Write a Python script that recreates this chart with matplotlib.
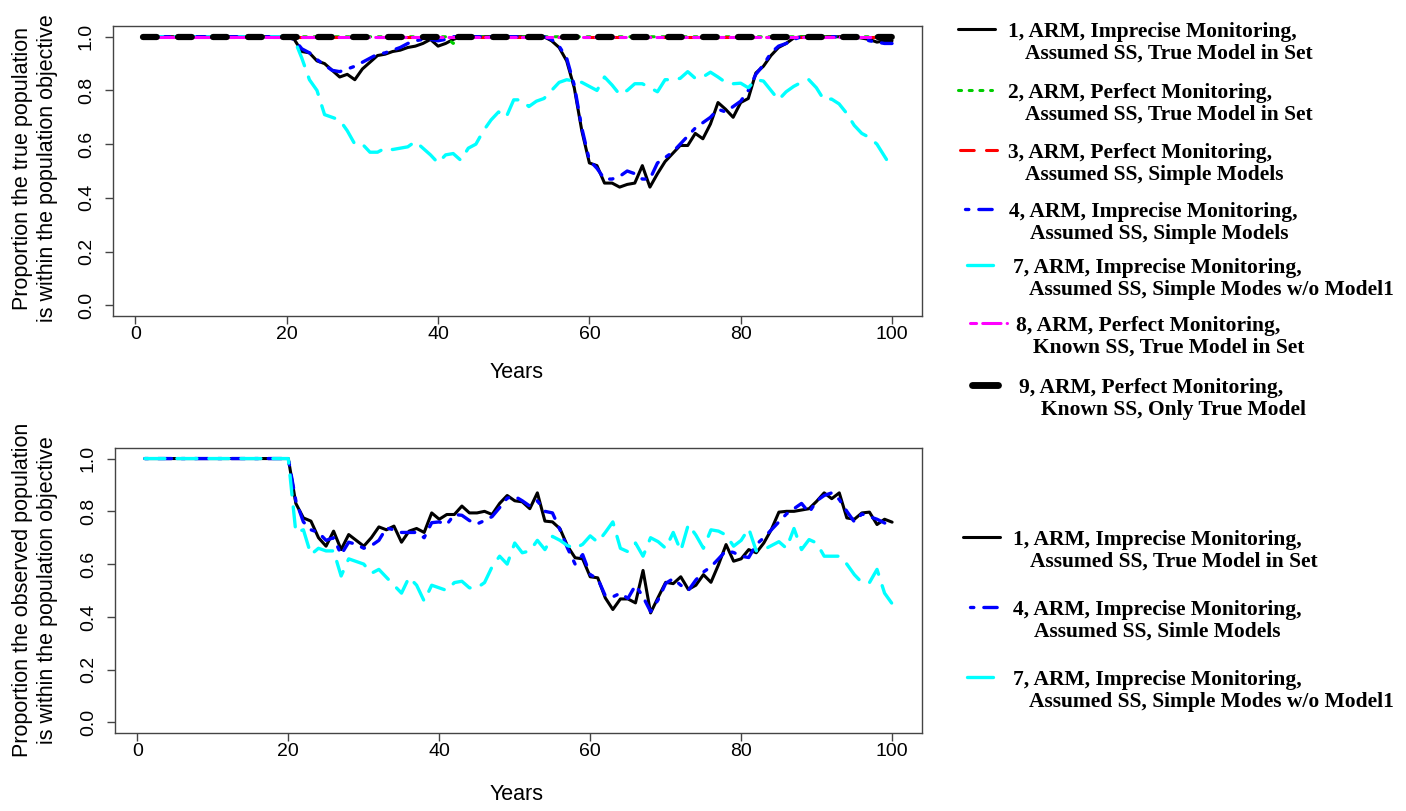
import numpy as np
import matplotlib
matplotlib.use("Agg")
import matplotlib.pyplot as plt
from matplotlib.lines import Line2D

years = np.arange(1, 101)

# ---- top panel: proportion the true population is within the objective ----
s1_top = [1.0] * 20 + [
    0.99, 0.945, 0.94, 0.91, 0.90, 0.875, 0.85, 0.86, 0.84, 0.88,
    0.905, 0.93, 0.935, 0.945, 0.95, 0.96, 0.965, 0.975, 0.99, 0.965,
    0.975, 0.99, 1.0, 1.0, 1.0, 1.0, 1.0, 1.0, 1.0, 1.0,
    1.0, 1.0, 1.0, 1.0, 0.985, 0.96, 0.91, 0.81, 0.65, 0.53,
    0.52, 0.455, 0.455, 0.44, 0.45, 0.455, 0.52, 0.44, 0.49, 0.535,
    0.565, 0.595, 0.595, 0.64, 0.62, 0.675, 0.755, 0.73, 0.70, 0.755,
    0.77, 0.865, 0.89, 0.93, 0.96, 0.975, 0.995, 1.0, 1.0, 1.0,
    1.0, 1.0, 1.0, 1.0, 1.0, 0.995, 0.99, 0.98, 0.985, 0.985]
s2_top = [1.0] * 41 + [0.975] + [1.0] * 58
s3_top = [1.0] * 100
s4_top = [1.0] * 20 + [
    0.99, 0.955, 0.94, 0.915, 0.895, 0.875, 0.87, 0.88, 0.89, 0.905,
    0.92, 0.935, 0.94, 0.95, 0.96, 0.975, 0.985, 0.99, 0.99, 0.985,
    0.99, 1.0, 1.0, 1.0, 1.0, 1.0, 1.0, 1.0, 1.0, 1.0,
    1.0, 1.0, 1.0, 1.0, 0.99, 0.965, 0.92, 0.82, 0.66, 0.54,
    0.51, 0.47, 0.47, 0.48, 0.50, 0.49, 0.47, 0.47, 0.53, 0.55,
    0.57, 0.60, 0.63, 0.66, 0.68, 0.70, 0.73, 0.72, 0.74, 0.76,
    0.80, 0.86, 0.895, 0.94, 0.965, 0.975, 0.99, 1.0, 1.0, 1.0,
    1.0, 1.0, 1.0, 1.0, 1.0, 0.995, 0.985, 0.98, 0.975, 0.975]
s7_top = [1.0] * 20 + [
    0.99, 0.92, 0.84, 0.80, 0.71, 0.70, 0.69, 0.65, 0.60, 0.60,
    0.57, 0.57, 0.585, 0.58, 0.585, 0.59, 0.61, 0.585, 0.56, 0.53,
    0.56, 0.565, 0.54, 0.585, 0.60, 0.65, 0.69, 0.72, 0.70, 0.765,
    0.765, 0.74, 0.76, 0.77, 0.80, 0.83, 0.84, 0.835, 0.83, 0.815,
    0.80, 0.85, 0.82, 0.785, 0.80, 0.825, 0.825, 0.81, 0.795, 0.84,
    0.84, 0.845, 0.87, 0.845, 0.85, 0.868, 0.85, 0.83, 0.825, 0.827,
    0.81, 0.84, 0.835, 0.80, 0.765, 0.795, 0.815, 0.83, 0.84, 0.81,
    0.765, 0.768, 0.75, 0.715, 0.67, 0.64, 0.625, 0.60, 0.555, 0.51]
s8_top = [1.0] * 100
s9_top = [1.0] * 100

# ---- bottom panel: proportion the observed population is within the objective ----
s1_bot = [1.0] * 20 + [
    0.83, 0.775, 0.763, 0.70, 0.668, 0.725, 0.655, 0.712, 0.69, 0.668,
    0.70, 0.741, 0.73, 0.744, 0.683, 0.725, 0.735, 0.72, 0.794, 0.77,
    0.788, 0.788, 0.82, 0.794, 0.794, 0.80, 0.788, 0.83, 0.86, 0.84,
    0.836, 0.81, 0.87, 0.763, 0.76, 0.734, 0.668, 0.624, 0.62, 0.552,
    0.548, 0.472, 0.428, 0.468, 0.468, 0.453, 0.576, 0.415, 0.474, 0.531,
    0.526, 0.552, 0.504, 0.52, 0.56, 0.531, 0.598, 0.674, 0.611, 0.62,
    0.655, 0.643, 0.68, 0.731, 0.797, 0.80, 0.80, 0.805, 0.81, 0.838,
    0.87, 0.848, 0.87, 0.775, 0.77, 0.794, 0.797, 0.75, 0.77, 0.759]
s4_bot = [1.0] * 20 + [
    0.84, 0.76, 0.73, 0.72, 0.69, 0.70, 0.636, 0.683, 0.675, 0.66,
    0.67, 0.69, 0.737, 0.73, 0.72, 0.72, 0.72, 0.70, 0.757, 0.76,
    0.75, 0.788, 0.785, 0.765, 0.752, 0.765, 0.78, 0.814, 0.85, 0.857,
    0.84, 0.82, 0.84, 0.80, 0.794, 0.73, 0.66, 0.60, 0.636, 0.56,
    0.545, 0.48, 0.476, 0.49, 0.47, 0.52, 0.476, 0.42, 0.465, 0.527,
    0.545, 0.52, 0.50, 0.54, 0.57, 0.59, 0.62, 0.651, 0.644, 0.63,
    0.625, 0.674, 0.70, 0.73, 0.76, 0.79, 0.81, 0.83, 0.795, 0.84,
    0.86, 0.87, 0.845, 0.80, 0.76, 0.79, 0.78, 0.77, 0.756, 0.735]
s7_bot = [1.0] * 20 + [
    0.72, 0.73, 0.636, 0.66, 0.65, 0.65, 0.555, 0.62, 0.61, 0.60,
    0.565, 0.58, 0.55, 0.52, 0.49, 0.55, 0.52, 0.46, 0.52, 0.51,
    0.50, 0.53, 0.535, 0.51, 0.51, 0.53, 0.59, 0.63, 0.60, 0.68,
    0.643, 0.65, 0.69, 0.655, 0.705, 0.69, 0.67, 0.66, 0.675, 0.707,
    0.683, 0.72, 0.76, 0.66, 0.647, 0.68, 0.63, 0.70, 0.685, 0.66,
    0.72, 0.65, 0.75, 0.71, 0.66, 0.73, 0.725, 0.71, 0.668, 0.69,
    0.735, 0.65, 0.655, 0.67, 0.685, 0.66, 0.735, 0.655, 0.693, 0.68,
    0.63, 0.63, 0.63, 0.60, 0.56, 0.53, 0.53, 0.58, 0.49, 0.45]

top_keys = [1, 2, 3, 4, 7, 8, 9]
top_line1 = ["1, ARM, Imprecise Monitoring,", "2, ARM, Perfect Monitoring,",
             "3, ARM, Perfect Monitoring,", "4, ARM, Imprecise Monitoring,",
             "7, ARM, Imprecise Monitoring,", "8, ARM, Perfect Monitoring,",
             "9, ARM, Perfect Monitoring,"]
top_line2 = ["Assumed SS, True Model in Set", "Assumed SS, True Model in Set",
             "Assumed SS, Simple Models", "Assumed SS, Simple Models",
             "Assumed SS, Simple Modes w/o Model1", "Known SS, True Model in Set",
             "Known SS, Only True Model"]
bot_keys = [1, 4, 7]
bot_line1 = ["1, ARM, Imprecise Monitoring,", "4, ARM, Imprecise Monitoring,",
             "7, ARM, Imprecise Monitoring,"]
bot_line2 = ["Assumed SS, True Model in Set", "Assumed SS, Simle Models",
             "Assumed SS, Simple Modes w/o Model1"]

# line styles (R-like lty)
sty = {
    1: dict(color="black", lw=2.2, ls="-"),
    2: dict(color="#00cc00", lw=2.2, ls=(0, (1, 2.5))),
    3: dict(color="red", lw=2.2, ls=(0, (4.5, 4))),
    4: dict(color="blue", lw=2.4, ls=(0, (1, 3, 4, 3))),
    7: dict(color="cyan", lw=2.4, ls=(0, (6, 3.6))),
    8: dict(color="magenta", lw=2.2, ls=(0, (2, 2, 6, 2))),
    9: dict(color="black", lw=4.5, ls=(0, (2.2, 3.4))),
}
# legend keys are too short to show the long dashes of 7 and 9
handle_ls = {7: "-", 9: "-"}

plt.rcParams["font.family"] = ["Liberation Sans", "DejaVu Sans"]
fig = plt.figure(figsize=(14.06, 8.11), dpi=100)
W, H = 1406.0, 811.0

ax1 = fig.add_axes([113 / W, 1 - 316 / H, (922 - 113) / W, (316 - 26) / H])
ax2 = fig.add_axes([115 / W, 1 - 733 / H, (922 - 115) / W, (733 - 448) / H])

top_series = [s1_top, s2_top, s3_top, s4_top, s7_top, s8_top, s9_top]
bot_series = [s1_bot, s4_bot, s7_bot]

for k, s in zip(top_keys, top_series):
    st = sty[k]
    ax1.plot(years, s, color=st["color"], lw=st["lw"], linestyle=st["ls"],
             dash_capstyle="round", solid_capstyle="round")
for k, s in zip(bot_keys, bot_series):
    st = sty[k]
    ax2.plot(years, s, color=st["color"], lw=st["lw"], linestyle=st["ls"],
             dash_capstyle="round", solid_capstyle="round")

ylabels = ["Proportion the true population\nis within the population objective",
           "Proportion the observed population\nis within the population objective"]
ylab_y = [168, 590]
xlab_y = [373, 795]
for ax, yl, yy, xy in zip([ax1, ax2], ylabels, ylab_y, xlab_y):
    ax.set_xlim(-2.96, 103.96)
    ax.set_ylim(-0.04, 1.04)
    ax.set_xticks([0, 20, 40, 60, 80, 100])
    ax.set_yticks([0.0, 0.2, 0.4, 0.6, 0.8, 1.0])
    ax.set_yticklabels(["0.0", "0.2", "0.4", "0.6", "0.8", "1.0"],
                       rotation=90, va="center")
    ax.tick_params(length=6, width=1, colors="#444444", labelsize=14,
                   labelcolor="black")
    ax.tick_params(axis="x", pad=1.5)
    ax.tick_params(axis="y", pad=7)
    for sp in ax.spines.values():
        sp.set_color("#444444")
        sp.set_linewidth(1)
    fig.text(35 / W, 1 - yy / H, yl, rotation=90, ha="center", va="center",
             multialignment="center", fontsize=15.5, linespacing=1.2)
    fig.text(517 / W, 1 - xy / H, "Years", ha="center", va="center",
             fontsize=15.5)

# manual legends (R-style, key next to the first line of each entry)
def draw_legend(keys, line1, line2, ys, hx, tx1, tx2):
    for k, a, b, y, (h0, h1), x1, x2 in zip(keys, line1, line2, ys, hx, tx1, tx2):
        st = sty[k]
        fig.add_artist(Line2D([h0 / W, h1 / W], [1 - (y - 1) / H, 1 - (y - 1) / H],
                              transform=fig.transFigure, color=st["color"],
                              lw=st["lw"] * (1.1 if k == 9 else 1.0),
                              linestyle=handle_ls.get(k, st["ls"]),
                              dash_capstyle="round", solid_capstyle="round"))
        for txt, x, yy in [(a, x1, y), (b, x2, y + 22)]:
            fig.text(x / W, 1 - (yy + 7) / H, txt, ha="left", va="baseline",
                     fontsize=15.5, fontweight="bold",
                     family=["Liberation Serif", "DejaVu Serif"])

draw_legend(top_keys, top_line1, top_line2,
            [30, 91, 151, 210, 266, 324, 386],
            [(958, 995), (958, 992), (960, 997), (965, 995), (967, 993),
             (970, 1007), (972, 998)],
            [1008, 1008, 1008, 1009, 1013, 1016, 1019],
            [1025, 1025, 1025, 1030, 1029, 1033, 1041])
draw_legend(bot_keys, bot_line1, bot_line2,
            [538, 608, 678],
            [(963, 1000), (970, 1000), (967, 993)],
            [1013, 1013, 1013],
            [1030, 1034, 1029])

fig.savefig("out.png", dpi=100)
